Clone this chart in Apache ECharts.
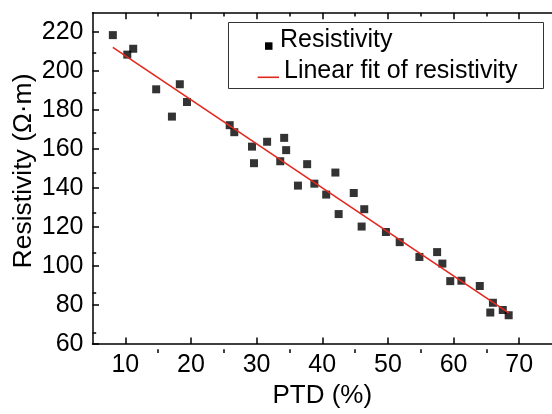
<!DOCTYPE html>
<html>
<head>
<meta charset="UTF-8">
<script src="https://cdn.jsdelivr.net/npm/echarts@6/dist/echarts.min.js"></script>
<style>
  html, body { margin: 0; padding: 0; background: #fff; }
  #chart { width: 552px; height: 414px; }
</style>
</head>
<body>
<div id="chart"></div>
<script>
  // measured points
  const ptd = [8.1, 10.3, 11.2, 14.7, 17.1, 18.3, 19.4, 25.9, 26.6, 29.3, 29.6, 31.6, 33.6, 34.2, 34.5, 36.3, 37.7, 38.8,
    40.6, 42.0, 42.5, 44.8, 46.0, 46.4, 49.7, 51.8, 54.8, 57.5, 58.3, 59.5, 61.2, 64.0, 65.6, 66.0, 67.5, 68.4];
  const resistivity = [218.5, 208.5, 211.5, 190.7, 176.7, 193.3, 184.2, 172.3, 168.7, 161.3, 152.8, 163.8, 153.8, 165.8, 159.5, 141.3, 152.3, 142.3,
    136.7, 148.0, 126.7, 137.5, 120.3, 129.2, 117.5, 112.3, 104.7, 107.2, 101.3, 92.3, 92.5, 89.8, 76.2, 81.2, 77.5, 74.8];

  // linear fit end points
  const fitX = [8.1, 68.4];
  const fitY = [212.2, 76.0];

  // ticks
  const xMajor = [10, 20, 30, 40, 50, 60, 70];
  const xMinor = [15, 25, 35, 45, 55, 65];
  const yMajor = [60, 80, 100, 120, 140, 160, 180, 200, 220];
  const yMinor = [70, 90, 110, 130, 150, 170, 190, 210];

  const font = "'Liberation Sans', Arial, sans-serif";
  const black = '#000';
  const red = '#e2281e';
  const gridPos = { left: 92.5, top: 12.7, right: -4.1, bottom: 61 };

  const chart = echarts.init(document.getElementById('chart'), null, { renderer: 'canvas' });

  function xAx(grid, pos, ticks, len, labels, line) {
    return {
      type: 'value', gridIndex: grid, position: pos, min: 5, max: 75,
      axisLine: { show: line, onZero: false, lineStyle: { color: black, width: 1.5 } },
      axisTick: { show: true, inside: true, length: len, customValues: ticks, lineStyle: { color: black, width: 1.5 } },
      axisLabel: labels ? { show: true, customValues: xMajor, margin: 9, color: black, fontSize: 25, fontFamily: font } : { show: false },
      splitLine: { show: false }
    };
  }

  const option = {
    animation: false,
    backgroundColor: '#fff',
    grid: [
      Object.assign({}, gridPos),
      Object.assign({}, gridPos)
    ],
    xAxis: [
      Object.assign(xAx(0, 'bottom', xMajor, 6.5, true, true), {
        name: 'PTD (%)', nameLocation: 'middle', nameGap: 36,
        nameTextStyle: { color: black, fontSize: 26, fontFamily: font }
      }),
      xAx(0, 'top', xMajor, 6.5, false, true),
      xAx(1, 'bottom', xMinor, 3.7, false, false),
      xAx(1, 'top', xMinor, 3.7, false, false)
    ],
    yAxis: [
      {
        type: 'value', gridIndex: 0, position: 'left', min: 60, max: 230,
        axisLine: { show: true, onZero: false, lineStyle: { color: black, width: 1.5 } },
        axisTick: { show: true, inside: true, length: 6.5, customValues: yMajor, lineStyle: { color: black, width: 1.5 } },
        axisLabel: { customValues: yMajor, margin: 9, color: black, fontSize: 25, fontFamily: font },
        splitLine: { show: false }
      },
      {
        type: 'value', gridIndex: 1, position: 'left', min: 60, max: 230,
        axisLine: { show: false },
        axisTick: { show: true, inside: true, length: 3.7, customValues: yMinor, lineStyle: { color: black, width: 1.5 } },
        axisLabel: { show: false },
        splitLine: { show: false }
      }
    ],
    series: [
      {
        name: 'Linear fit of resistivity',
        type: 'line',
        xAxisIndex: 0, yAxisIndex: 0,
        data: fitX.map((x, i) => [x, fitY[i]]),
        showSymbol: false,
        lineStyle: { color: red, width: 1.6 },
        z: 3
      },
      {
        name: 'Resistivity',
        type: 'scatter',
        xAxisIndex: 0, yAxisIndex: 0,
        data: ptd.map((x, i) => [x, resistivity[i]]),
        symbol: 'rect',
        symbolSize: 8,
        itemStyle: { color: black },
        z: 2
      }
    ],
    graphic: [
      // y axis title
      {
        type: 'text', x: 23.5, y: 171, rotation: Math.PI / 2, z: 11,
        style: { text: 'Resistivity (Ω·m)', fontSize: 26.5, fontFamily: font, fill: black, align: 'center', verticalAlign: 'middle' }
      },
      // legend box
      {
        type: 'rect', left: 228, top: 22, z: 10,
        shape: { width: 315, height: 66 },
        style: { fill: '#fff', stroke: '#333', lineWidth: 1 }
      },
      {
        type: 'rect', left: 265, top: 42.3, z: 11,
        shape: { width: 7.5, height: 7.5 },
        style: { fill: black }
      },
      {
        type: 'text', x: 280, y: 40, z: 11,
        style: { text: 'Resistivity', fontSize: 25, fontFamily: font, fill: black, verticalAlign: 'middle' }
      },
      {
        type: 'line', z: 11,
        shape: { x1: 257.7, y1: 77.3, x2: 279, y2: 77.3 },
        style: { stroke: red, lineWidth: 1.6 }
      },
      {
        type: 'text', x: 284, y: 71, z: 11,
        style: { text: 'Linear fit of resistivity', fontSize: 25, fontFamily: font, fill: black, verticalAlign: 'middle' }
      }
    ]
  };

  chart.setOption(option);
</script>
</body>
</html>
